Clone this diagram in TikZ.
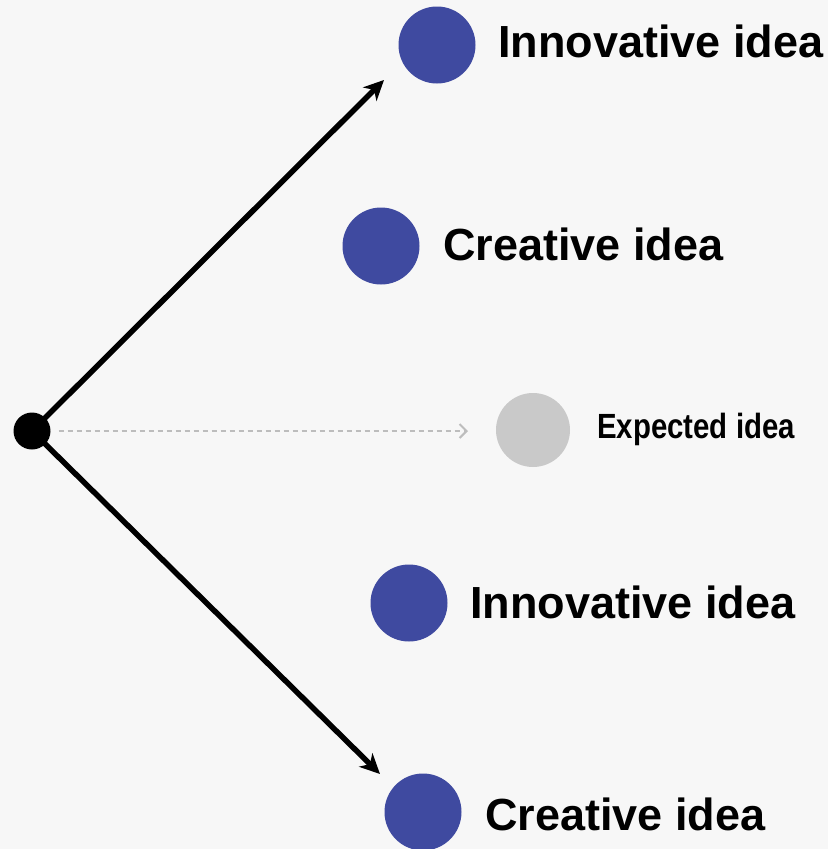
\documentclass[tikz,border=0pt]{standalone}
\usepackage{fontspec}
\setmainfont{Liberation Sans}
\usetikzlibrary{arrows.meta}
\definecolor{bg}{HTML}{F7F7F7}
\definecolor{ideablue}{HTML}{3F4AA0}
\definecolor{idgray}{HTML}{C9C9C9}
\definecolor{dotgray}{HTML}{BDBDBD}
\begin{document}
\begin{tikzpicture}[x=1pt,y=-1pt,
  idea/.style={circle,fill=ideablue,minimum size=77pt,inner sep=0pt},
  expdot/.style={circle,fill=idgray,minimum size=74pt,inner sep=0pt},
  lab/.style={anchor=base west,inner sep=0pt,font=\fontsize{45}{48}\selectfont\bfseries},
  smalllab/.style={anchor=base west,inner sep=0pt,font=\fontsize{35}{38}\selectfont\bfseries,xscale=0.84,transform shape},
  mainarrow/.style={line width=5.5pt,-{Stealth[length=20pt,width=19pt,inset=6pt]}},
  dotarrow/.style={line width=2.5pt,dotgray,dash pattern=on 5pt off 4pt,-{Straight Barb[length=7pt,width=14pt,line width=2pt]}}
]
\fill[bg] (0,0) rectangle (828,849);
\useasboundingbox (0,0) rectangle (828,849);
\node[circle,fill=black,minimum size=37pt,inner sep=0pt] (o) at (32,431) {};
\node[idea] (i1) at (437,45) {};
\node[lab] (t1) at (498,57) {Innovative idea};
\node[idea] (c1) at (381,246) {};
\node[lab] (t2) at (443,260) {Creative idea};
\node[expdot] (e) at (533,430) {};
\node[smalllab] (t3) at (597,438) {Expected idea};
\node[idea] (i2) at (409,603) {};
\node[lab] (t4) at (470,618) {Innovative idea};
\node[idea] (c2) at (423,812) {};
\node[lab] (t5) at (485,830) {Creative idea};
\coordinate (tipu) at (384,80);
\coordinate (tipd) at (380,774);
\coordinate (tipe) at (468,431);
\draw[mainarrow] (o.center) -- (tipu);
\draw[mainarrow] (o.center) -- (tipd);
\draw[dotarrow] (o.east) ++(8,0) -- (tipe);
\end{tikzpicture}
\end{document}
